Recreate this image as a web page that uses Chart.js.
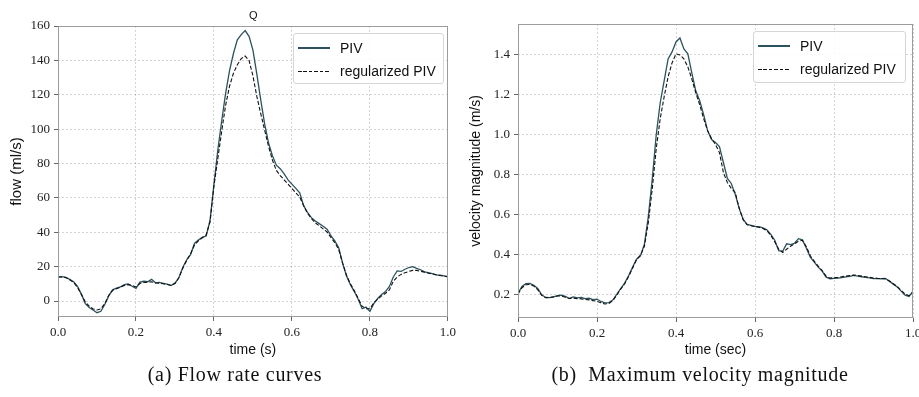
<!DOCTYPE html>
<html>
<head>
<meta charset="utf-8">
<title>PIV flow and velocity</title>
<script src="https://cdn.jsdelivr.net/npm/chart.js@4.4.1/dist/chart.umd.min.js"></script>
<style>
    html, body { margin: 0; padding: 0; background: #fff; width: 919px; height: 397px; overflow: hidden; }
    .panel { position: absolute; top: 0; }
    #panelA { left: 0; }
    #panelB { left: 460px; }
    .legend {
        position: absolute;
        border: 1px solid #d6d6d6;
        border-radius: 3px;
        background: rgba(255, 255, 255, 0.85);
        font-family: 'Liberation Sans', Arial, sans-serif;
        font-size: 14px;
        color: #111;
    }
    .legend .row { position: absolute; left: 0; height: 20px; display: flex; align-items: center; white-space: nowrap; }
    .legend .swatch { width: 32px; height: 1.3px; margin-left: 4px; margin-right: 10px; }
    .note { position: absolute; font-family: 'Liberation Sans', Arial, sans-serif; font-size: 11px; color: #111; }
    .caption {
        position: absolute;
        top: 363px;
        width: 380px;
        text-align: center;
        font-family: 'Liberation Serif', 'Times New Roman', serif;
        font-size: 20px;
        letter-spacing: 0.7px;
        white-space: pre;
        color: #111;
    }
</style>
</head>
<body>
<canvas id="panelA" class="panel" width="460" height="365"></canvas>
<canvas id="panelB" class="panel" width="470" height="365"></canvas>
<div class="note" style="left:249px; top:9px;">Q</div>
<div id="legendA" class="legend" style="left:293px; top:33px; width:149px; height:49px;"></div>
<div id="legendB" class="legend" style="left:753px; top:31px; width:151px; height:50px;"></div>
<div class="caption" style="left:45px;">(a) Flow rate curves</div>
<div class="caption" style="left:510px;">(b)  Maximum velocity magnitude</div>

<script>
// ===== dados =====
const time = [0, 0.01, 0.02, 0.03, 0.04, 0.05, 0.06, 0.07, 0.08, 0.09,
    0.1, 0.11, 0.12, 0.13, 0.14, 0.15, 0.16, 0.17, 0.18, 0.19,
    0.2, 0.21, 0.22, 0.23, 0.24, 0.25, 0.26, 0.27, 0.28, 0.29,
    0.3, 0.31, 0.32, 0.33, 0.34, 0.35, 0.36, 0.37, 0.38, 0.39,
    0.4, 0.41, 0.42, 0.43, 0.44, 0.45, 0.46, 0.47, 0.48, 0.49,
    0.5, 0.51, 0.52, 0.53, 0.54, 0.55, 0.56, 0.57, 0.58, 0.59,
    0.6, 0.61, 0.62, 0.63, 0.64, 0.65, 0.66, 0.67, 0.68, 0.69,
    0.7, 0.71, 0.72, 0.73, 0.74, 0.75, 0.76, 0.77, 0.78, 0.79,
    0.8, 0.81, 0.82, 0.83, 0.84, 0.85, 0.86, 0.87, 0.88, 0.89,
    0.9, 0.91, 0.92, 0.93, 0.94, 0.95, 0.96, 0.97, 0.98, 0.99,
    1.0];

// (a) vazão, ml/s
const flowPIV = [14, 14.2, 13.8, 12.6, 11.2, 8.5, 4.0, -1.5, -3.8, -5.2,
    -6.8, -6.0, -2.0, 3.0, 6.5, 7.5, 8.2, 9.5, 10.0, 8.6,
    7.4, 11.0, 11.5, 11.2, 12.6, 10.6, 10.8, 10.3, 9.8, 9.0,
    10.4, 13.5, 19.5, 24.0, 27.0, 33.5, 35.5, 37.0, 37.8, 47.0,
    68.0, 88.0, 105.0, 121.0, 134.0, 144.0, 152.0, 155.0, 157.3, 154.0,
    146.0, 132.0, 117.0, 103.0, 92.0, 84.5, 79.0, 77.0, 74.0, 70.5,
    68.0, 65.5, 63.0, 55.5, 51.5, 48.5, 46.5, 45.0, 43.5, 41.8,
    38.0, 35.0, 31.0, 22.0, 14.5, 9.5, 5.5, 1.0, -4.5, -3.5,
    -6.0, -1.5, 1.5, 3.8, 5.5, 8.5, 14.0, 17.5, 17.2, 18.5,
    19.5, 20.0, 19.0, 18.2, 17.0, 16.5, 16.0, 15.2, 15.0, 14.6,
    14.2];
const flowReg = [14, 14, 13.6, 12.4, 10.8, 8.0, 3.8, -0.5, -3.0, -4.6,
    -5.2, -4.6, -1.5, 3.2, 6.2, 7.2, 8.0, 9.0, 9.5, 9.0,
    8.2, 10.2, 10.8, 11.0, 11.2, 10.5, 10.4, 10.0, 9.6, 9.2,
    10.2, 13.5, 19.0, 23.5, 27.5, 32.5, 35.0, 36.8, 38.5, 46.0,
    67.0, 83.0, 99.0, 114.0, 125.0, 132.5, 137.5, 141.0, 142.5, 140.0,
    131.0, 119.0, 109.0, 99.5, 90.0, 82.0, 76.0, 73.0, 70.5, 68.0,
    65.5, 63.0, 60.5, 55.5, 51.0, 48.0, 45.5, 43.8, 42.0, 40.2,
    37.0, 34.0, 30.0, 22.0, 15.0, 10.0, 6.0, 1.5, -3.0, -4.5,
    -4.5, -1.0, 1.0, 3.0, 4.5, 6.5, 11.5, 14.0, 15.5, 16.5,
    17.2, 17.8, 17.8, 17.3, 16.8, 16.2, 15.8, 15.3, 14.8, 14.5,
    14.0];

// (b) velocidade máxima, m/s
const velPIV = [0.203, 0.238, 0.252, 0.253, 0.244, 0.228, 0.196, 0.183, 0.182, 0.186,
    0.192, 0.195, 0.188, 0.178, 0.186, 0.181, 0.183, 0.177, 0.179, 0.172,
    0.175, 0.163, 0.156, 0.157, 0.170, 0.198, 0.228, 0.255, 0.292, 0.335,
    0.375, 0.392, 0.45, 0.59, 0.78, 1.00, 1.16, 1.27, 1.38, 1.415,
    1.465, 1.485, 1.43, 1.405, 1.31, 1.22, 1.17, 1.10, 1.02, 0.975,
    0.96, 0.94, 0.86, 0.78, 0.755, 0.70, 0.63, 0.575, 0.55, 0.545,
    0.54, 0.538, 0.532, 0.522, 0.50, 0.47, 0.418, 0.415, 0.452, 0.448,
    0.455, 0.478, 0.472, 0.43, 0.385, 0.36, 0.335, 0.315, 0.285, 0.277,
    0.279, 0.280, 0.283, 0.286, 0.289, 0.294, 0.290, 0.287, 0.284, 0.281,
    0.278, 0.278, 0.277, 0.279, 0.265, 0.250, 0.236, 0.215, 0.195, 0.188,
    0.215];
const velReg = [0.20, 0.232, 0.247, 0.248, 0.240, 0.222, 0.194, 0.182, 0.182, 0.186,
    0.190, 0.190, 0.184, 0.178, 0.180, 0.177, 0.176, 0.173, 0.171, 0.167,
    0.164, 0.156, 0.150, 0.153, 0.167, 0.195, 0.225, 0.252, 0.288, 0.330,
    0.372, 0.395, 0.44, 0.56, 0.73, 0.93, 1.08, 1.19, 1.29, 1.36,
    1.405, 1.40, 1.38, 1.34, 1.28, 1.21, 1.15, 1.08, 1.02, 0.98,
    0.95, 0.91, 0.81, 0.76, 0.73, 0.71, 0.63, 0.573, 0.548, 0.543,
    0.538, 0.535, 0.529, 0.518, 0.495, 0.462, 0.425, 0.408, 0.425, 0.440,
    0.452, 0.465, 0.470, 0.438, 0.392, 0.365, 0.340, 0.318, 0.290, 0.280,
    0.282, 0.284, 0.287, 0.290, 0.293, 0.296, 0.293, 0.290, 0.287, 0.284,
    0.281, 0.279, 0.278, 0.276, 0.266, 0.252, 0.238, 0.218, 0.200, 0.192,
    0.205];

const seriesLabels = ['PIV', 'regularized PIV'];
const xTicks = [0, 0.2, 0.4, 0.6, 0.8, 1.0];
const flowTicks = [0, 20, 40, 60, 80, 100, 120, 140, 160];
const velTicks = [0.2, 0.4, 0.6, 0.8, 1.0, 1.2, 1.4];

// ===== estilo =====
const corPIV = '#2c525c';
const corReg = '#111111';
const sans = "'Liberation Sans', Arial, sans-serif";
const serif = "'Liberation Serif', 'Times New Roman', serif";

// moldura cinza em volta da área do gráfico
const framePlugin = {
    id: 'frame',
    afterDatasetsDraw(chart) {
        const { ctx, chartArea: a } = chart;
        ctx.save();
        ctx.strokeStyle = '#9c9c9c';
        ctx.lineWidth = 1;
        ctx.strokeRect(Math.round(a.left) + 0.5, Math.round(a.top) + 0.5,
            Math.round(a.right - a.left) - 1, Math.round(a.bottom - a.top) - 1);
        ctx.restore();
    }
};

function toPoints(vals) {
    return time.map((t, i) => ({ x: t, y: vals[i] }));
}

function criarPainel(canvasId, cfg) {
    return new Chart(document.getElementById(canvasId), {
        type: 'line',
        data: {
            datasets: [{
                label: seriesLabels[0],
                data: toPoints(cfg.piv),
                borderColor: corPIV,
                borderWidth: 1.3,
                pointRadius: 0,
                order: 1
            }, {
                label: seriesLabels[1],
                data: toPoints(cfg.reg),
                borderColor: corReg,
                borderWidth: 1.1,
                borderDash: [4, 2],
                pointRadius: 0,
                order: 0
            }]
        },
        options: {
            responsive: false,
            animation: false,
            events: [],
            layout: { autoPadding: false, padding: cfg.padding },
            plugins: {
                legend: { display: false },
                tooltip: { enabled: false }
            },
            scales: {
                x: {
                    type: 'linear',
                    min: 0,
                    max: 1,
                    afterBuildTicks: s => { s.ticks = xTicks.map(v => ({ value: v })); },
                    afterFit: s => { s.height = cfg.xHeight; },
                    ticks: {
                        autoSkip: false,
                        maxRotation: 0,
                        padding: 4,
                        color: '#222',
                        font: { family: serif, size: 13 },
                        callback: v => v.toFixed(1)
                    },
                    grid: { color: 'rgba(0,0,0,0.17)', tickColor: '#666', tickLength: 4 },
                    border: { display: false, dash: [2, 2] },
                    title: {
                        display: true,
                        text: cfg.xTitle,
                        color: '#111',
                        font: { family: sans, size: 14 },
                        padding: { top: 0, bottom: 6 }
                    }
                },
                y: {
                    min: cfg.yMin,
                    max: cfg.yMax,
                    afterBuildTicks: s => { s.ticks = cfg.yTicks.map(v => ({ value: v })); },
                    afterFit: s => { s.width = 58; },
                    ticks: {
                        autoSkip: false,
                        padding: 4,
                        color: '#222',
                        font: { family: serif, size: 13 },
                        callback: cfg.yFmt
                    },
                    grid: { color: 'rgba(0,0,0,0.17)', tickColor: '#666', tickLength: 4 },
                    border: { display: false, dash: [2, 2] },
                    title: {
                        display: true,
                        text: cfg.yTitle,
                        color: '#111',
                        font: { family: sans, size: cfg.yTitleSize },
                        padding: { top: 8, bottom: 0 }
                    }
                }
            }
        },
        plugins: [framePlugin]
    });
}

// legenda em HTML, montada a partir dos datasets
function montarLegenda(chart, elId) {
    const box = document.getElementById(elId);
    chart.data.datasets.forEach((ds, i) => {
        const row = document.createElement('div');
        row.className = 'row';
        row.style.top = (4 + i * 23.3) + 'px';
        const sw = document.createElement('span');
        sw.className = 'swatch';
        if (ds.borderDash) {
            sw.style.background = 'repeating-linear-gradient(to right, ' + ds.borderColor + ' 0 3.6px, transparent 3.6px 5.4px)';
            sw.style.height = '1.2px';
        } else {
            sw.style.background = ds.borderColor;
        }
        const txt = document.createElement('span');
        txt.textContent = ds.label;
        row.appendChild(sw);
        row.appendChild(txt);
        box.appendChild(row);
    });
}

const chartA = criarPainel('panelA', {
    piv: flowPIV, reg: flowReg,
    yMin: -9.3, yMax: 160, yTicks: flowTicks,
    yFmt: v => String(v),
    xTitle: 'time (s)', yTitle: 'flow (ml/s)', yTitleSize: 15,
    padding: { top: 26, right: 10, bottom: 0, left: 0 },
    xHeight: 48
});

const chartB = criarPainel('panelB', {
    piv: velPIV, reg: velReg,
    yMin: 0.08, yMax: 1.555, yTicks: velTicks,
    yFmt: v => v.toFixed(1),
    xTitle: 'time (sec)', yTitle: 'velocity magnitude (m/s)', yTitleSize: 14,
    padding: { top: 24, right: 17, bottom: 0, left: 0 },
    xHeight: 47
});

montarLegenda(chartA, 'legendA');
montarLegenda(chartB, 'legendB');
</script>
</body>
</html>
